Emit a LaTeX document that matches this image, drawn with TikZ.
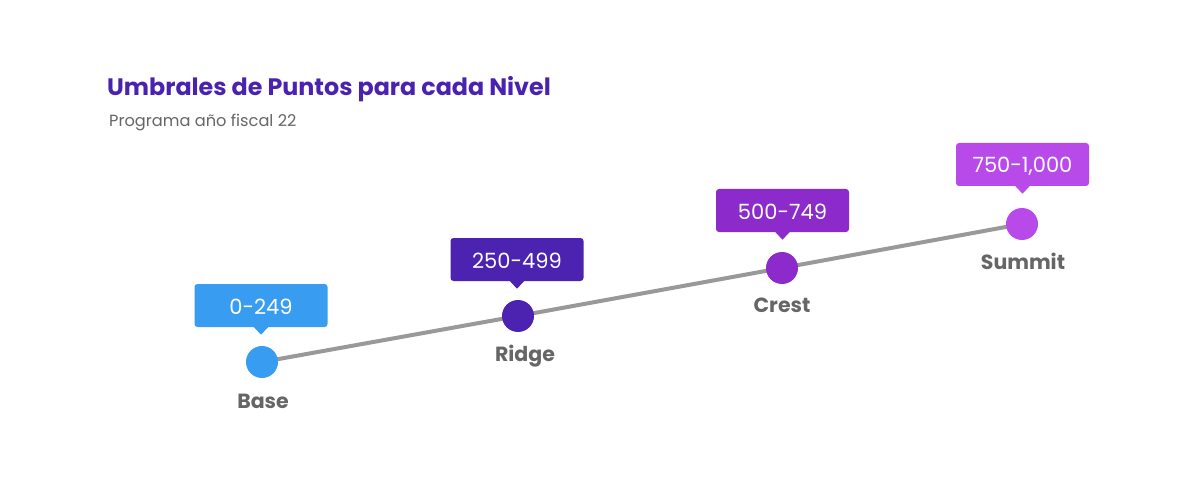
\documentclass[tikz,border=0pt]{standalone}
\usepackage{fontspec}
\setmainfont{Poppins}
\usetikzlibrary{calc}
\definecolor{cbase}{HTML}{389CF0}
\definecolor{cridge}{HTML}{4C23B1}
\definecolor{ccrest}{HTML}{8C2ACB}
\definecolor{csummit}{HTML}{B84AEA}
\definecolor{ctitle}{HTML}{4B22B0}
\definecolor{cgray}{HTML}{666666}
\definecolor{cline}{HTML}{999999}
\tikzset{
  dot/.style={circle, fill=#1, minimum size=32pt, inner sep=0pt},
  tag/.style={fill=#1, rounded corners=3pt, minimum width=133pt, minimum height=43pt, inner sep=0pt},
  tagtext/.style={anchor=base, inner sep=0pt, text=white, font=\fontsize{21pt}{21pt}\selectfont},
  lvl/.style={text=cgray, font=\bfseries\fontsize{20.5pt}{20.5pt}\selectfont, anchor=base, inner sep=0pt},
}
\begin{document}
\begin{tikzpicture}[x=1pt,y=-1pt]
\useasboundingbox (0,0) rectangle (1200,500);
\fill[white] (0,0) rectangle (1200,500);
% title
\node[anchor=base west, inner sep=0pt, text=ctitle, font=\bfseries\fontsize{23.8pt}{23.8pt}\selectfont] (title) at (107,96) {Umbrales de Puntos para cada Nivel};
\node[anchor=base west, inner sep=0pt, text=cgray, font=\fontsize{16.2pt}{16.2pt}\selectfont] (sub) at (109,127) {Programa año fiscal 22};
% dots
\coordinate (pb) at (262,362);
\coordinate (pr) at (518,316);
\coordinate (pc) at (782,268);
\coordinate (ps) at (1022,224);
\draw[cline, line width=4pt] (pb) -- (pr) -- (pc) -- (ps);
\node[dot=cbase] (dbase) at (pb) {};
\node[dot=cridge] (dridge) at (pr) {};
\node[dot=ccrest] (dcrest) at (pc) {};
\node[dot=csummit] (dsummit) at (ps) {};
% tags
\node[tag=cbase] (tbase) at (261,305.5) {};
\node[tag=cridge] (tridge) at (517,259.5) {};
\node[tag=ccrest] (tcrest) at (782.5,210.5) {};
\node[tag=csummit] (tsummit) at (1022.5,164.5) {};
\foreach \t/\c in {tbase/cbase,tridge/cridge,tcrest/ccrest,tsummit/csummit}{
  \fill[\c] ($(\t.south)+(-7.5,-0.5)$) -- ($(\t.south)+(7.5,-0.5)$) -- ($(\t.south)+(0,7.5)$) -- cycle;
}
\node[tagtext] (lbase) at (261,314) {0-249};
\node[tagtext] (lridge) at (517,268) {250-499};
\node[tagtext] (lcrest) at (782.5,219) {500-749};
\node[tagtext] (lsummit) at (1022.5,173) {750-1,000};
% level names
\node[lvl] (nbase) at (263,408) {Base};
\node[lvl] (nridge) at (525,361) {Ridge};
\node[lvl] (ncrest) at (782,312) {Crest};
\node[lvl] (nsummit) at (1023,269) {Summit};
\end{tikzpicture}
\end{document}
